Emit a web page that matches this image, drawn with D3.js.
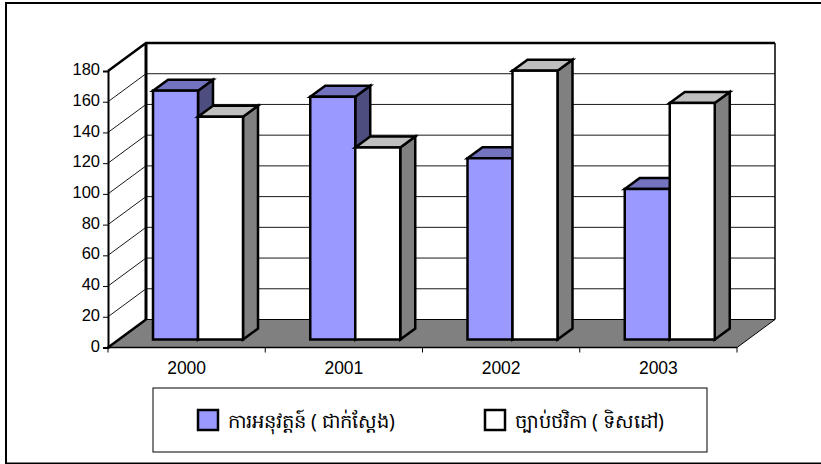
<!DOCTYPE html>
<html>
  <head>
    <meta charset="utf-8">
    <script src="https://d3js.org/d3.v7.min.js"></script>
    <style>
      html, body { margin: 0; padding: 0; background: #fff; }
      svg { display: block; }
      text { font-family: "Liberation Sans", Arial, sans-serif; fill: #000; }
    </style>
  </head>
  <body>
  <script>
  var width = 821, height = 464;

  var years = ['2000', '2001', '2002', '2003'];
  var actual = [162, 158, 118, 98];
  var target = [145, 125, 175, 154];
  var yTicks = [0, 20, 40, 60, 80, 100, 120, 140, 160, 180];
  var seriesNames = ['ការអនុវត្តន៍ ( ជាក់ស្តែង)', 'ច្បាប់ថវិកា ( ទិសដៅ)'];
  var seriesColors = [
    {front: '#9999ff', top: '#7373bf', side: '#4d4d80'},
    {front: '#ffffff', top: '#bfbfbf', side: '#808080'}
  ];

  var svg = d3.select('body').append('svg')
      .attr('width', width)
      .attr('height', height);

  var line = d3.line();

  // frame: the picture is cropped so there is no right edge
  svg.append('path')
      .attr('d', line([[821, 3], [6, 3], [6, 463.5], [821, 463.5]]))
      .attr('fill', 'none').attr('stroke', '#000').attr('stroke-width', 2);

  var x = d3.scaleBand().domain(years).range([108, 737]);
  var y = d3.scaleLinear().domain([0, 180]).range([347.5, 71]);

  // depth of the walls and of the bars
  var wallDx = 38, wallDy = -28;
  var barDx = 15, barDy = -11;
  var barBaseDx = 11, barBaseDy = -8;
  var barW = 45, groupInset = 34;

  var yLeft = x.range()[0], xRight = x.range()[1];

  // gridlines, back wall and side wall
  yTicks.slice(1).forEach(function(t) {
    svg.append('path')
        .attr('d', line([[yLeft, y(t)], [yLeft + wallDx, y(t) + wallDy], [xRight + wallDx, y(t) + wallDy]]))
        .attr('fill', 'none')
        .attr('stroke', '#000')
        .attr('stroke-width', t == 180 ? 2.5 : 1)
        .attr('stroke-opacity', t == 180 ? 1 : 0.9);
  });

  // right edge of back wall
  svg.append('path')
      .attr('d', line([[xRight + wallDx, y(180) + wallDy], [xRight + wallDx, y(0) + wallDy]]))
      .attr('stroke', '#000').attr('stroke-width', 1.5);

  // left edge of back wall
  svg.append('path')
      .attr('d', line([[yLeft + wallDx, y(180) + wallDy], [yLeft + wallDx, y(0) + wallDy]]))
      .attr('stroke', '#000').attr('stroke-width', 3);

  // floor
  svg.append('path')
      .attr('d', line([[yLeft, y(0)], [yLeft + wallDx, y(0) + wallDy], [xRight + wallDx, y(0) + wallDy], [xRight, y(0)]]) + 'Z')
      .attr('fill', '#808080')
      .attr('stroke', '#000')
      .attr('stroke-width', 1);

  svg.append('path')
      .attr('d', line([[yLeft, y(0)], [yLeft + wallDx, y(0) + wallDy]]))
      .attr('stroke', '#000').attr('stroke-width', 2.5);

  // bars
  var rows = [];
  years.forEach(function(yr, i) {
    [actual[i], target[i]].forEach(function(v, s) {
      rows.push({year: yr, value: v, s: s});
    });
  });

  var bars = svg.selectAll('.bar')
      .data(rows)
    .enter().append('g')
      .attr('class', 'bar')
      .attr('stroke', '#000')
      .attr('stroke-width', 2.5)
      .attr('stroke-linejoin', 'miter');

  function x0(d) { return x(d.year) + groupInset + barBaseDx + d.s * barW; }
  function yTop(d) { return y(d.value) + barBaseDy; }
  var yBase = y(0) + barBaseDy;

  bars.append('path')
      .attr('fill', function(d) { return seriesColors[d.s].side; })
      .attr('d', function(d) {
        var r = x0(d) + barW;
        return line([[r, yTop(d)], [r + barDx, yTop(d) + barDy], [r + barDx, yBase + barDy], [r, yBase]]) + 'Z';
      });
  bars.append('path')
      .attr('fill', function(d) { return seriesColors[d.s].top; })
      .attr('d', function(d) {
        var l = x0(d), r = l + barW;
        return line([[l, yTop(d)], [l + barDx, yTop(d) + barDy], [r + barDx, yTop(d) + barDy], [r, yTop(d)]]) + 'Z';
      });
  bars.append('rect')
      .attr('fill', function(d) { return seriesColors[d.s].front; })
      .attr('x', x0)
      .attr('y', yTop)
      .attr('width', barW)
      .attr('height', function(d) { return yBase - yTop(d); });

  // axes
  var yAxis = d3.axisLeft(y).tickValues(yTicks).tickSize(5).tickPadding(3);
  var yg = svg.append('g').attr('transform', 'translate(' + yLeft + ',0)').call(yAxis);
  yg.select('.domain').attr('stroke-width', 2);
  yg.selectAll('text')
      .attr('dy', '0.22em')
      .attr('font-size', 16.5)
      .style('font-family', '"Liberation Sans", Arial, sans-serif');

  var xBoundaries = x.domain().map(function(d) { return x(d); }).concat([xRight]);
  var xg = svg.append('g').attr('class', 'x-axis');
  xg.selectAll('line').data(xBoundaries).enter().append('line')
      .attr('x1', function(d) { return d; }).attr('x2', function(d) { return d; })
      .attr('y1', y(0)).attr('y2', y(0) + 5)
      .attr('stroke', '#000');
  xg.append('path').attr('d', line([[yLeft, y(0)], [xRight, y(0)]])).attr('stroke', '#000').attr('stroke-width', 1.5);
  xg.selectAll('text').data(years).enter().append('text')
      .attr('x', function(d) { return x(d) + x.bandwidth() / 2; })
      .attr('y', 374)
      .attr('text-anchor', 'middle')
      .attr('font-size', 17.5)
      .text(function(d) { return d; });

  // legend
  svg.append('rect')
      .attr('x', 153).attr('y', 388)
      .attr('width', 554).attr('height', 64)
      .attr('fill', '#fff').attr('stroke', '#000');

  var legendX = [198, 485];
  var legend = svg.selectAll('.legend')
      .data(seriesNames)
    .enter().append('g')
      .attr('class', 'legend')
      .attr('transform', function(d, i) { return 'translate(' + legendX[i] + ',410)'; });
  legend.append('rect')
      .attr('width', 20).attr('height', 20)
      .attr('fill', function(d, i) { return seriesColors[i].front; })
      .attr('stroke', '#000').attr('stroke-width', 2.5);
  legend.append('text')
      .attr('x', 30).attr('y', 18)
      .attr('font-size', 19.5)
      .style('font-family', '"Noto Sans", "Liberation Sans", sans-serif')
      .text(function(d) { return d; });
  </script>
  </body>
</html>
